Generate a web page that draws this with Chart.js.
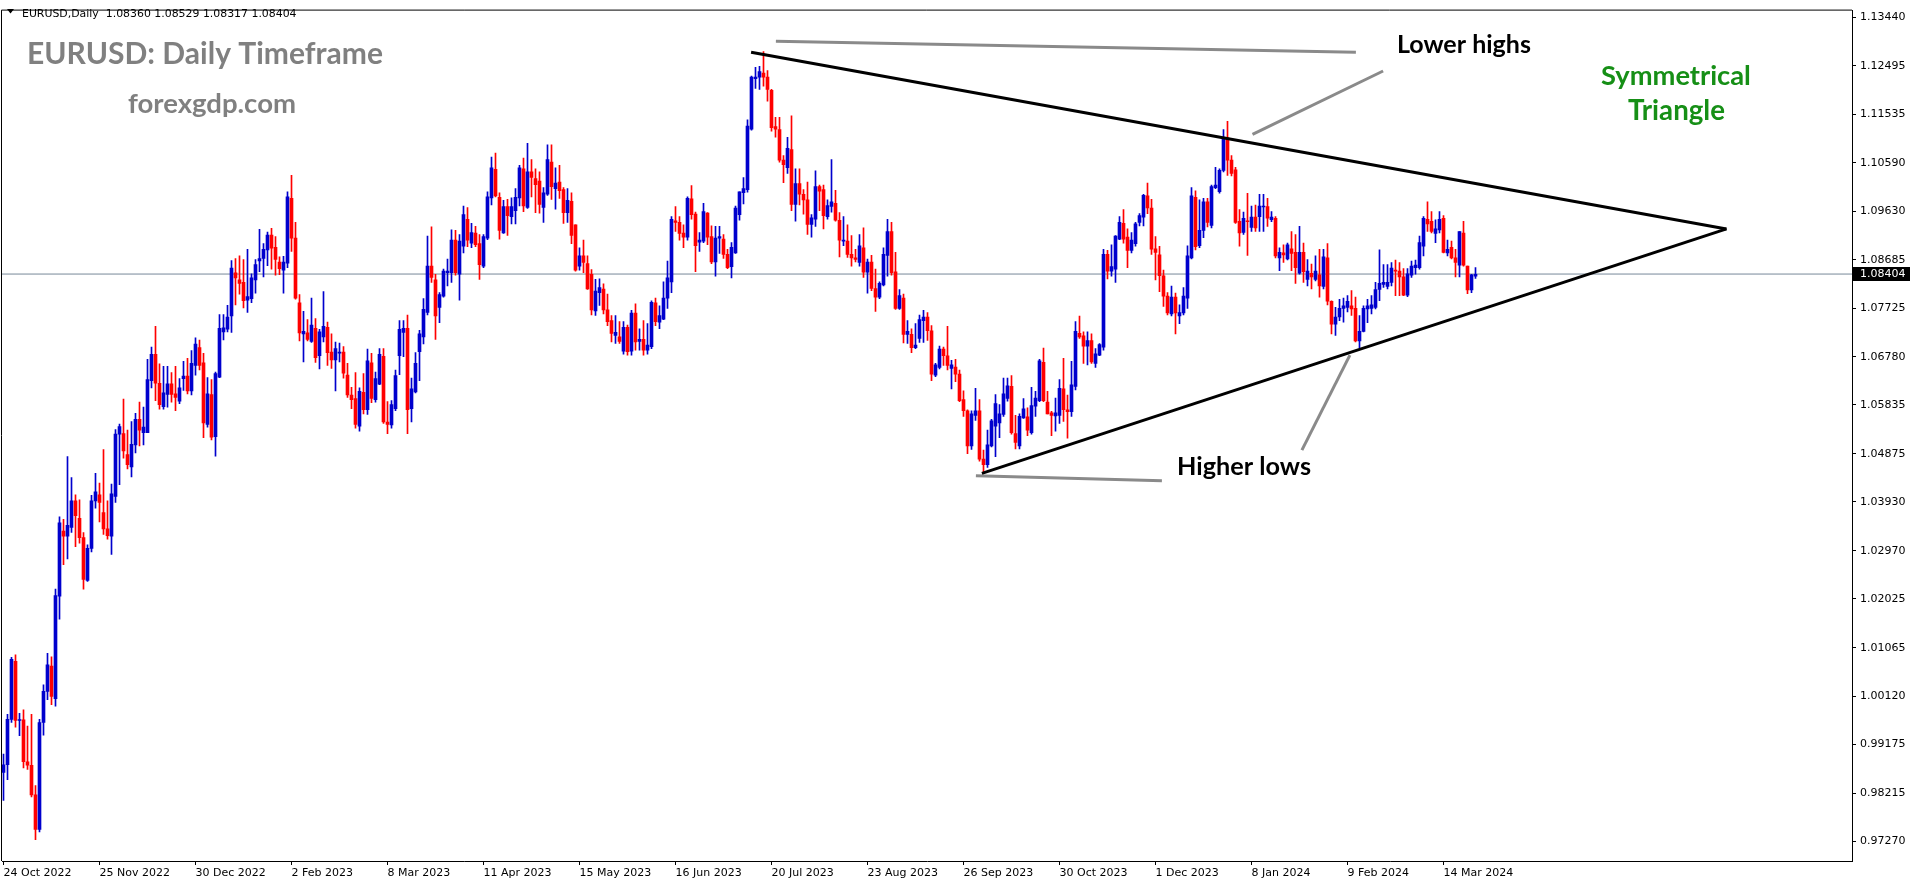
<!DOCTYPE html>
<html>
<head>
<meta charset="utf-8">
<script src="https://cdn.jsdelivr.net/npm/chart.js@4.4.1/dist/chart.umd.min.js"></script>
<style>
  html, body { margin: 0; padding: 0; background: #fff; overflow: hidden; }
  canvas { display: block; }
</style>
</head>
<body>
<canvas id="chart" width="1916" height="884"></canvas>
<script>
/* ----- EURUSD daily candles, 24 Oct 2022 .. 26 Mar 2024 (bar index 0..368) ----- */
const opens = [
  0.9862,0.9877,0.9966,1.0080,0.9964,0.9965,0.9883,0.9876,0.9818,0.9750,
  0.9960,1.0021,1.0071,1.0007,1.0208,1.0336,1.0326,1.0343,1.0395,1.0361,
  1.0323,1.0239,1.0302,1.0395,1.0407,1.0372,1.0340,1.0326,1.0404,1.0526,
  1.0527,1.0486,1.0462,1.0505,1.0555,1.0529,1.0529,1.0631,1.0683,1.0626,
  1.0580,1.0604,1.0625,1.0605,1.0591,1.0635,1.0640,1.0611,1.0661,1.0696,
  1.0666,1.0545,1.0604,1.0521,1.0638,1.0727,1.0732,1.0758,1.0843,1.0829,
  1.0824,1.0789,1.0792,1.0829,1.0866,1.0871,1.0888,1.0917,1.0893,1.0864,
  1.0848,1.0862,1.0989,1.0911,1.0784,1.0723,1.0725,1.0708,1.0734,1.0680,
  1.0717,1.0736,1.0687,1.0672,1.0685,1.0687,1.0642,1.0603,1.0596,1.0542,
  1.0608,1.0574,1.0666,1.0594,1.0624,1.0679,1.0550,1.0544,1.0576,1.0680,
  1.0726,1.0734,1.0576,1.0609,1.0688,1.0717,1.0765,1.0856,1.0829,1.0775,
  1.0797,1.0843,1.0843,1.0907,1.0840,1.0895,1.0948,1.0901,1.0921,1.0900,
  1.0856,1.0911,1.0990,1.1046,1.0991,1.0921,1.0973,1.0953,1.0965,1.0990,
  1.1047,1.0971,1.1041,1.1028,1.1023,1.0971,1.0997,1.1060,1.1008,1.1021,
  1.1006,1.0961,1.0983,1.0937,1.0856,1.0876,1.0861,1.0840,1.0768,1.0804,
  1.0811,1.0770,1.0749,1.0720,1.0717,1.0689,1.0736,1.0689,1.0764,1.0708,
  1.0712,1.0691,1.0698,1.0784,1.0746,1.0752,1.0793,1.0825,1.0945,1.0942,
  1.0921,1.0913,1.0988,1.0958,1.0903,1.0905,1.0960,1.0914,1.0864,1.0911,
  1.0909,1.0879,1.0855,1.0882,1.0957,1.1000,1.1006,1.1125,1.1224,1.1227,
  1.1235,1.1227,1.1201,1.1130,1.1124,1.1064,1.1049,1.1085,1.0977,1.1018,
  1.0997,1.0986,1.0938,1.0948,1.1012,1.1006,1.0953,1.0973,1.0979,1.0946,
  1.0905,1.0905,1.0879,1.0872,1.0863,1.0892,1.0844,1.0864,1.0812,1.0795,
  1.0819,1.0877,1.0924,1.0845,1.0773,1.0793,1.0722,1.0722,1.0696,1.0714,
  1.0749,1.0756,1.0729,1.0642,1.0657,1.0693,1.0680,1.0655,1.0658,1.0644,
  1.0594,1.0572,1.0503,1.0563,1.0572,1.0477,1.0466,1.0503,1.0542,1.0548,
  1.0565,1.0596,1.0620,1.0527,1.0503,1.0558,1.0560,1.0529,1.0581,1.0592,
  1.0667,1.0589,1.0568,1.0562,1.0563,1.0615,1.0574,1.0570,1.0620,1.0724,
  1.0719,1.0699,1.0710,1.0665,1.0681,1.0697,1.0879,1.0846,1.0850,1.0909,
  1.0940,1.0913,1.0887,1.0900,1.0942,1.0952,1.0994,1.0970,1.0890,1.0878,
  1.0837,1.0797,1.0762,1.0795,1.0758,1.0764,1.0793,1.0872,1.0991,1.0896,
  1.0926,1.0982,1.0936,1.1010,1.1002,1.1044,1.1108,1.1064,1.1045,1.0944,
  1.0922,1.0945,1.0932,1.0952,1.0953,1.0972,1.0973,1.0947,1.0950,1.0872,
  1.0882,1.0870,1.0890,1.0883,1.0842,1.0883,1.0830,1.0842,1.0830,1.0839,
  1.0816,1.0872,1.0787,1.0742,1.0756,1.0773,1.0775,1.0778,1.0773,1.0709,
  1.0728,1.0772,1.0773,1.0775,1.0810,1.0820,1.0816,1.0824,1.0848,1.0846,
  1.0835,1.0799,1.0838,1.0853,1.0853,1.0895,1.0948,1.0944,1.0920,1.0927,
  1.0950,1.0882,1.0893,1.0872,1.0858,1.0921,1.0856,1.0809,1.0836
];
const highs = [
  0.9898,0.9976,1.0088,1.0093,0.9978,0.9985,0.9953,0.9976,0.9836,0.9966,
  1.0034,1.0096,1.0089,1.0222,1.0364,1.0359,1.0482,1.0441,1.0407,1.0397,
  1.0333,1.0309,1.0406,1.0449,1.0430,1.0496,1.0395,1.0428,1.0535,1.0546,
  1.0595,1.0534,1.0551,1.0567,1.0589,1.0579,1.0673,1.0697,1.0738,1.0664,
  1.0659,1.0659,1.0647,1.0659,1.0635,1.0669,1.0675,1.0690,1.0715,1.0711,
  1.0685,1.0637,1.0633,1.0648,1.0761,1.0761,1.0779,1.0867,1.0871,1.0876,
  1.0869,1.0889,1.0841,1.0869,1.0928,1.0900,1.0923,1.0930,1.0914,1.0874,
  1.0875,1.1002,1.1034,1.0942,1.0800,1.0767,1.0751,1.0793,1.0753,1.0732,
  1.0806,1.0746,1.0723,1.0707,1.0705,1.0698,1.0665,1.0618,1.0647,1.0617,
  1.0645,1.0693,1.0685,1.0648,1.0694,1.0694,1.0590,1.0592,1.0652,1.0749,
  1.0749,1.0760,1.0636,1.0686,1.0730,1.0792,1.0915,1.0933,1.0840,1.0804,
  1.0850,1.0870,1.0927,1.0926,1.0918,1.0974,1.0971,1.0940,1.0934,1.0918,
  1.0918,1.1002,1.1070,1.1078,1.1000,1.0985,1.0987,1.0990,1.1008,1.1054,
  1.1068,1.1097,1.1065,1.1047,1.1041,1.1010,1.1094,1.1094,1.1049,1.1054,
  1.1010,1.1008,1.1000,1.0937,1.0892,1.0907,1.0876,1.0849,1.0830,1.0831,
  1.0821,1.0801,1.0759,1.0759,1.0747,1.0747,1.0740,1.0769,1.0782,1.0733,
  1.0749,1.0743,1.0788,1.0793,1.0778,1.0825,1.0866,1.0953,1.0973,1.0953,
  1.0937,1.0992,1.1014,1.0962,1.0922,1.0979,1.0961,1.0935,1.0934,1.0934,
  1.0918,1.0889,1.0902,1.0974,1.1002,1.1030,1.1143,1.1229,1.1246,1.1248,
  1.1277,1.1240,1.1203,1.1148,1.1148,1.1073,1.1109,1.1151,1.1047,1.1047,
  1.1006,1.1021,1.0957,1.1043,1.1015,1.1015,1.0986,1.1065,1.1005,1.0961,
  1.0953,1.0937,1.0916,1.0889,1.0918,1.0931,1.0870,1.0877,1.0850,1.0825,
  1.0892,1.0948,1.0942,1.0883,1.0810,1.0801,1.0749,1.0733,1.0743,1.0760,
  1.0769,1.0765,1.0739,1.0665,1.0699,1.0697,1.0738,1.0671,1.0673,1.0652,
  1.0611,1.0574,1.0572,1.0616,1.0594,1.0495,1.0534,1.0555,1.0604,1.0584,
  1.0636,1.0636,1.0641,1.0563,1.0566,1.0596,1.0578,1.0618,1.0610,1.0673,
  1.0695,1.0610,1.0571,1.0597,1.0633,1.0675,1.0603,1.0669,1.0747,1.0758,
  1.0727,1.0727,1.0723,1.0694,1.0704,1.0889,1.0887,1.0898,1.0916,1.0953,
  1.0967,1.0929,1.0922,1.0942,1.0959,1.0997,1.1019,1.0987,1.0914,1.0895,
  1.0848,1.0804,1.0817,1.0803,1.0780,1.0814,1.0896,1.1010,1.1004,1.0986,
  1.0989,1.0989,1.1015,1.1050,1.1047,1.1124,1.1140,1.1073,1.1050,1.0967,
  1.0962,1.0999,1.0974,1.0976,1.0997,1.0997,1.0989,1.0963,1.0953,1.0892,
  1.0898,1.0901,1.0924,1.0918,1.0934,1.0901,1.0869,1.0860,1.0876,1.0889,
  1.0889,1.0900,1.0788,1.0775,1.0791,1.0793,1.0798,1.0808,1.0795,1.0759,
  1.0778,1.0791,1.0798,1.0824,1.0888,1.0859,1.0859,1.0863,1.0868,1.0863,
  1.0851,1.0851,1.0866,1.0868,1.0915,1.0953,1.0982,1.0963,1.0947,1.0963,
  1.0955,1.0907,1.0905,1.0889,1.0924,1.0944,1.0856,1.0840,1.0853
];
const lows = [
  0.9807,0.9848,0.9960,0.9951,0.9934,0.9871,0.9868,0.9814,0.9730,0.9745,
  0.9935,1.0005,0.9995,0.9992,1.0163,1.0270,1.0281,1.0333,1.0305,1.0312,
  1.0222,1.0237,1.0295,1.0381,1.0354,1.0329,1.0320,1.0290,1.0392,1.0427,
  1.0479,1.0458,1.0442,1.0489,1.0503,1.0505,1.0529,1.0617,1.0592,1.0575,
  1.0575,1.0579,1.0589,1.0572,1.0586,1.0612,1.0605,1.0603,1.0642,1.0652,
  1.0519,1.0540,1.0515,1.0483,1.0637,1.0711,1.0727,1.0726,1.0780,1.0801,
  1.0774,1.0765,1.0784,1.0803,1.0845,1.0835,1.0857,1.0850,1.0838,1.0839,
  1.0803,1.0853,1.0885,1.0791,1.0709,1.0668,1.0709,1.0706,1.0667,1.0654,
  1.0707,1.0661,1.0655,1.0611,1.0668,1.0636,1.0598,1.0576,1.0538,1.0532,
  1.0566,1.0565,1.0588,1.0589,1.0623,1.0547,1.0527,1.0538,1.0572,1.0643,
  1.0678,1.0527,1.0550,1.0607,1.0631,1.0703,1.0760,1.0824,1.0712,1.0745,
  1.0795,1.0817,1.0824,1.0838,1.0789,1.0882,1.0894,1.0892,1.0894,1.0830,
  1.0853,1.0908,1.0976,1.0992,1.0909,1.0920,1.0916,1.0939,1.0939,1.0974,
  1.0963,1.0969,1.0992,1.0961,1.0960,1.0942,1.0995,1.0987,1.0968,1.0989,
  1.0940,1.0942,1.0900,1.0846,1.0848,1.0843,1.0810,1.0760,1.0759,1.0779,
  1.0762,1.0739,1.0707,1.0704,1.0704,1.0683,1.0681,1.0681,1.0691,1.0691,
  1.0681,1.0683,1.0694,1.0739,1.0733,1.0751,1.0773,1.0804,1.0924,1.0907,
  1.0892,1.0907,1.0948,1.0845,1.0885,1.0902,1.0898,1.0861,1.0836,1.0881,
  1.0871,1.0851,1.0833,1.0881,1.0946,1.0978,1.1001,1.1123,1.1205,1.1203,
  1.1209,1.1180,1.1121,1.1109,1.1060,1.1020,1.1038,1.0965,1.0944,1.0976,
  1.0958,1.0918,1.0913,1.0934,1.0965,1.0929,1.0948,1.0962,1.0944,1.0874,
  1.0896,1.0873,1.0856,1.0864,1.0856,1.0834,1.0803,1.0808,1.0767,1.0792,
  1.0817,1.0836,1.0838,1.0771,1.0771,1.0705,1.0704,1.0686,1.0694,1.0706,
  1.0706,1.0710,1.0631,1.0639,1.0654,1.0661,1.0652,1.0615,1.0629,1.0590,
  1.0561,1.0488,1.0496,1.0553,1.0473,1.0451,1.0461,1.0501,1.0482,1.0519,
  1.0561,1.0591,1.0526,1.0497,1.0497,1.0557,1.0523,1.0526,1.0561,1.0590,
  1.0590,1.0566,1.0523,1.0532,1.0547,1.0551,1.0518,1.0561,1.0613,1.0714,
  1.0665,1.0662,1.0665,1.0657,1.0680,1.0691,1.0831,1.0836,1.0824,1.0908,
  1.0901,1.0853,1.0882,1.0895,1.0935,1.0935,1.0959,1.0879,1.0829,1.0806,
  1.0777,1.0760,1.0758,1.0723,1.0743,1.0760,1.0773,1.0870,1.0888,1.0892,
  1.0912,1.0933,1.0931,1.1008,1.0999,1.1041,1.1034,1.1033,1.0940,1.0895,
  1.0918,1.0877,1.0924,1.0924,1.0924,1.0924,1.0934,1.0943,1.0872,1.0847,
  1.0863,1.0868,1.0847,1.0822,1.0840,1.0824,1.0817,1.0811,1.0827,1.0795,
  1.0811,1.0780,1.0723,1.0720,1.0749,1.0746,1.0766,1.0759,1.0707,1.0696,
  1.0727,1.0745,1.0762,1.0772,1.0788,1.0814,1.0811,1.0817,1.0798,1.0798,
  1.0798,1.0796,1.0834,1.0840,1.0850,1.0876,1.0924,1.0921,1.0902,1.0921,
  1.0882,1.0876,1.0870,1.0835,1.0835,1.0856,1.0802,1.0804,1.0832
];
const closes = [
  0.9877,0.9966,1.0084,0.9964,0.9965,0.9883,0.9876,0.9818,0.9750,0.9960,
  1.0021,1.0073,1.0011,1.0209,1.0352,1.0326,1.0347,1.0395,1.0366,1.0323,
  1.0241,1.0302,1.0395,1.0413,1.0392,1.0340,1.0327,1.0409,1.0526,1.0541,
  1.0493,1.0466,1.0506,1.0555,1.0534,1.0540,1.0633,1.0683,1.0626,1.0584,
  1.0607,1.0625,1.0604,1.0598,1.0617,1.0640,1.0611,1.0665,1.0703,1.0661,
  1.0548,1.0605,1.0520,1.0645,1.0734,1.0735,1.0756,1.0852,1.0833,1.0822,
  1.0788,1.0796,1.0833,1.0859,1.0871,1.0889,1.0917,1.0891,1.0869,1.0851,
  1.0864,1.0992,1.0911,1.0793,1.0725,1.0728,1.0712,1.0740,1.0676,1.0727,
  1.0738,1.0686,1.0672,1.0694,1.0687,1.0646,1.0603,1.0594,1.0545,1.0610,
  1.0574,1.0670,1.0596,1.0635,1.0683,1.0550,1.0545,1.0584,1.0641,1.0732,
  1.0734,1.0574,1.0615,1.0665,1.0723,1.0771,1.0856,1.0834,1.0758,1.0800,
  1.0846,1.0846,1.0907,1.0843,1.0905,1.0957,1.0907,1.0922,1.0898,1.0859,
  1.0914,1.0992,1.1049,1.0994,1.0926,1.0973,1.0955,1.0973,1.0991,1.1049,
  1.0974,1.1041,1.1030,1.1016,1.0977,1.1000,1.1065,1.1012,1.1019,1.1004,
  1.0961,1.0985,1.0916,1.0848,1.0876,1.0863,1.0811,1.0770,1.0807,1.0814,
  1.0770,1.0747,1.0724,1.0726,1.0708,1.0736,1.0688,1.0764,1.0707,1.0712,
  1.0691,1.0701,1.0785,1.0747,1.0759,1.0793,1.0833,1.0948,1.0942,1.0920,
  1.0913,1.0989,1.0957,1.0896,1.0907,1.0963,1.0913,1.0864,1.0911,1.0914,
  1.0879,1.0853,1.0893,1.0970,1.1002,1.1008,1.1131,1.1227,1.1227,1.1238,
  1.1227,1.1203,1.1128,1.1125,1.1064,1.1055,1.1087,1.0977,1.1018,1.0997,
  1.0986,1.0938,1.0951,1.1012,1.1003,1.0955,1.0975,1.0982,1.0946,1.0907,
  1.0907,1.0879,1.0872,1.0869,1.0896,1.0844,1.0864,1.0812,1.0795,1.0822,
  1.0879,1.0924,1.0843,1.0773,1.0798,1.0722,1.0728,1.0696,1.0701,1.0751,
  1.0756,1.0729,1.0644,1.0662,1.0693,1.0680,1.0661,1.0662,1.0644,1.0592,
  1.0572,1.0503,1.0566,1.0572,1.0477,1.0466,1.0505,1.0552,1.0586,1.0566,
  1.0605,1.0621,1.0529,1.0510,1.0561,1.0576,1.0534,1.0582,1.0597,1.0670,
  1.0592,1.0566,1.0563,1.0568,1.0616,1.0574,1.0570,1.0623,1.0728,1.0717,
  1.0699,1.0710,1.0668,1.0684,1.0702,1.0879,1.0846,1.0855,1.0915,1.0942,
  1.0909,1.0887,1.0907,1.0939,1.0955,1.0995,1.0970,1.0889,1.0883,1.0837,
  1.0797,1.0764,1.0795,1.0764,1.0765,1.0797,1.0876,1.0994,1.0894,1.0926,
  1.0982,1.0942,1.1012,1.1015,1.1044,1.1108,1.1064,1.1038,1.0942,1.0921,
  1.0950,1.0943,1.0952,1.0931,1.0974,1.0974,1.0950,1.0952,1.0876,1.0883,
  1.0878,1.0898,1.0881,1.0853,1.0883,1.0845,1.0846,1.0835,1.0846,1.0817,
  1.0874,1.0787,1.0742,1.0756,1.0773,1.0778,1.0787,1.0772,1.0709,1.0728,
  1.0773,1.0778,1.0780,1.0810,1.0822,1.0824,1.0824,1.0852,1.0846,1.0835,
  1.0799,1.0841,1.0856,1.0858,1.0902,1.0950,1.0939,1.0924,1.0929,1.0948,
  1.0883,1.0889,1.0872,1.0863,1.0924,1.0858,1.0809,1.0839,1.0840
];

/* axis labels */
const dateTickIdx = [0, 24, 48, 72, 96, 120, 144, 168, 192, 216, 240, 264, 288, 312, 336, 360];
const dateLabels = ['24 Oct 2022', '25 Nov 2022', '30 Dec 2022', '2 Feb 2023', '8 Mar 2023',
  '11 Apr 2023', '15 May 2023', '16 Jun 2023', '20 Jul 2023', '23 Aug 2023', '26 Sep 2023',
  '30 Oct 2023', '1 Dec 2023', '8 Jan 2024', '9 Feb 2024', '14 Mar 2024'];
const priceTicks = [1.13440, 1.12495, 1.11535, 1.10590, 1.09630, 1.08685, 1.07725, 1.06780,
  1.05835, 1.04875, 1.03930, 1.02970, 1.02025, 1.01065, 1.00120, 0.99175, 0.98215, 0.97270];
const lastQuote = [1.08360, 1.08529, 1.08317, 1.08404]; // O H L C of current bar
const bidPrice = 1.08404;

/* drawn analysis lines (bar index, price) */
const upperLine = [{ x: 186.9, y: 1.1276 }, { x: 430.75, y: 1.0929 }];
const lowerLine = [{ x: 244.6, y: 1.0449 }, { x: 430.75, y: 1.0929 }];
const topGuide = [{ x: 193.1, y: 1.12974 }, { x: 338.1, y: 1.1276 }];
const bottomGuide = [{ x: 243.1, y: 1.04442 }, { x: 289.6, y: 1.04344 }];
const highsPointer = [{ x: 312.25, y: 1.11147 }, { x: 344.9, y: 1.1239 }];
const lowsPointer = [{ x: 336.6, y: 1.06813 }, { x: 324.6, y: 1.04947 }];

const BULL = '#0000cd';
const BEAR = '#ff0000';

const wickData = highs.map((h, i) => ({ x: i, y: [lows[i], h] }));
const bodyData = opens.map((o, i) => ({ x: i, y: [o, closes[i]] }));
const candleColors = opens.map((o, i) => (closes[i] >= o ? BULL : BEAR));

const lineSet = (data, color, width, order) => ({
  type: 'line', data, borderColor: color, borderWidth: width,
  pointRadius: 0, fill: false, tension: 0, order
});

/* ----- texts, frame and price tag ----- */
function fitText(ctx, text, x, baseline, width, font, color) {
  ctx.font = font.replace('SIZE', '100px');
  const size = 100 * width / ctx.measureText(text).width;
  ctx.font = font.replace('SIZE', size.toFixed(2) + 'px');
  ctx.fillStyle = color;
  ctx.textAlign = 'left';
  ctx.textBaseline = 'alphabetic';
  ctx.fillText(text, x, baseline);
}

const overlay = {
  id: 'overlay',
  afterDraw(chart) {
    const ctx = chart.ctx;
    const a = chart.chartArea;
    ctx.save();

    // left + top frame
    ctx.strokeStyle = '#000';
    ctx.lineWidth = 1;
    ctx.beginPath();
    ctx.moveTo(a.left - 0.5, a.bottom);
    ctx.lineTo(a.left - 0.5, a.top - 0.5);
    ctx.lineTo(a.right, a.top - 0.5);
    ctx.stroke();

    // header
    ctx.fillStyle = '#000';
    ctx.beginPath();
    ctx.moveTo(7, 9); ctx.lineTo(14, 9); ctx.lineTo(10.5, 13.5);
    ctx.closePath(); ctx.fill();
    fitText(ctx, 'EURUSD,Daily  ' + lastQuote.map(v => v.toFixed(5)).join(' '),
      22, 16.5, 275, 'SIZE "DejaVu Sans"', '#000');

    const bold = 'bold SIZE Lato, "Open Sans", sans-serif';
    fitText(ctx, 'EURUSD: Daily Timeframe', 27, 64, 356, bold, '#808080');
    fitText(ctx, 'forexgdp.com', 128, 113, 168, bold, '#808080');
    fitText(ctx, 'Lower highs', 1397, 53, 134, bold, '#000');
    fitText(ctx, 'Higher lows', 1177, 475, 134, bold, '#000');
    fitText(ctx, 'Symmetrical', 1601, 85, 150, bold, '#168f16');
    fitText(ctx, 'Triangle', 1628, 120, 97, bold, '#168f16');

    // current price tag
    const y = Math.round(chart.scales.y.getPixelForValue(bidPrice));
    ctx.fillStyle = '#000';
    ctx.fillRect(a.right + 1, y - 7, 57, 14);
    ctx.fillStyle = '#fff';
    ctx.font = '11px "DejaVu Sans"';
    ctx.textBaseline = 'middle';
    ctx.fillText(bidPrice.toFixed(5), a.right + 8, y + 0.5);
    ctx.restore();
  }
};

Chart.defaults.font.family = '"DejaVu Sans", sans-serif';
Chart.defaults.font.size = 11;
Chart.defaults.color = '#000';

new Chart(document.getElementById('chart'), {
  type: 'bar',
  data: {
    datasets: [
      lineSet(upperLine, '#000', 3, 0),
      lineSet(lowerLine, '#000', 3, 0),
      lineSet(topGuide, '#8a8a8a', 3, 0),
      lineSet(bottomGuide, '#8a8a8a', 3, 0),
      lineSet(highsPointer, '#8a8a8a', 3, 0),
      lineSet(lowsPointer, '#8a8a8a', 3, 0),
      {
        data: bodyData, backgroundColor: candleColors, borderWidth: 0,
        grouped: false, barPercentage: 1, categoryPercentage: 1,
        maxBarThickness: 3, minBarLength: 1, order: 1
      },
      {
        data: wickData, backgroundColor: candleColors, borderWidth: 0,
        grouped: false, barPercentage: 1, categoryPercentage: 1,
        maxBarThickness: 1, order: 2
      },
      lineSet([{ x: -0.375, y: bidPrice }, { x: 462.125, y: bidPrice }], '#778899', 1, 3)
    ]
  },
  options: {
    responsive: false,
    animation: false,
    devicePixelRatio: 1,
    layout: { padding: { left: 2, top: 2, right: 0, bottom: 0 } },
    plugins: { legend: { display: false }, tooltip: { enabled: false } },
    scales: {
      x: {
        type: 'linear', min: -0.375, max: 462.125, offset: false, bounds: 'data',
        afterBuildTicks: s => { s.ticks = dateTickIdx.map(v => ({ value: v })); },
        afterFit: s => { s.height = 23; },
        grid: { drawOnChartArea: false, drawTicks: true, tickLength: 4, color: '#000', offset: false },
        border: { display: true, color: '#000', width: 1 },
        ticks: {
          autoSkip: false, maxRotation: 0, align: 'start', padding: 2, color: '#000',
          callback: v => dateLabels[dateTickIdx.indexOf(v)] || ''
        }
      },
      y: {
        type: 'linear', position: 'right', min: 0.96881, max: 1.13576, bounds: 'data',
        afterBuildTicks: s => { s.ticks = priceTicks.map(v => ({ value: v })); },
        afterFit: s => { s.width = 64; },
        grid: { drawOnChartArea: false, drawTicks: true, tickLength: 4, color: '#000' },
        border: { display: true, color: '#000', width: 1 },
        ticks: { autoSkip: false, padding: 4, color: '#000', callback: v => v.toFixed(5) }
      }
    }
  },
  plugins: [overlay]
});
</script>
</body>
</html>
